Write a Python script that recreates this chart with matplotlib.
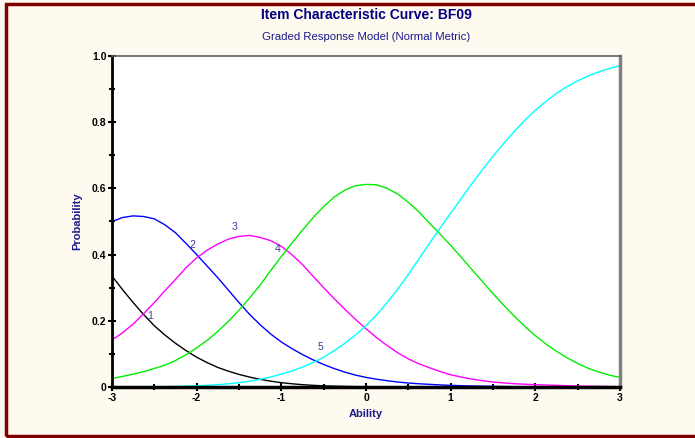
import matplotlib
matplotlib.use('Agg')
from matplotlib import pyplot as plt
from matplotlib.patches import Rectangle
from matplotlib.ticker import MultipleLocator

# ability grid (step 0.125) and category curves
ability = [-3 + 0.125 * i for i in range(49)]
cat1 = [0.335, 0.294, 0.255, 0.2185, 0.185, 0.157, 0.132, 0.110, 0.090, 0.0735,
        0.059, 0.0478, 0.038, 0.030, 0.023, 0.0176, 0.013, 0.0098, 0.007, 0.0051,
        0.0035, 0.0025, 0.0017, 0.0012, 0.0008, 0.0006, 0.0004, 0.0003, 0.0002, 0.00015,
        0.0001, 0.00005, 0, 0, 0, 0, 0, 0, 0, 0,
        0, 0, 0, 0, 0, 0, 0, 0, 0]
cat2 = [0.500, 0.512, 0.517, 0.515, 0.508, 0.490, 0.466, 0.4335, 0.400, 0.365,
        0.330, 0.2925, 0.255, 0.2195, 0.188, 0.160, 0.136, 0.116, 0.098, 0.082,
        0.068, 0.0556, 0.045, 0.036, 0.029, 0.0235, 0.019, 0.015, 0.012, 0.0098,
        0.008, 0.0063, 0.005, 0.004, 0.003, 0.0025, 0.002, 0.0015, 0.001, 0.0008,
        0.0006, 0.00045, 0.0003, 0.00025, 0.0002, 0.00015, 0.0001, 0.00005, 0.0]
cat3 = [0.142, 0.164, 0.190, 0.222, 0.255, 0.291, 0.325, 0.3605, 0.390, 0.4135,
        0.432, 0.4468, 0.455, 0.458, 0.452, 0.442, 0.425, 0.3995, 0.370, 0.3344,
        0.300, 0.2668, 0.235, 0.2045, 0.176, 0.149, 0.125, 0.1035, 0.085, 0.070,
        0.058, 0.0467, 0.037, 0.030, 0.024, 0.019, 0.015, 0.0123, 0.010, 0.0084,
        0.007, 0.006, 0.005, 0.004, 0.003, 0.0025, 0.002, 0.0015, 0.001]
cat4 = [0.026, 0.032, 0.039, 0.0466, 0.056, 0.066, 0.080, 0.0975, 0.118, 0.141,
        0.168, 0.1985, 0.232, 0.2688, 0.308, 0.3518, 0.394, 0.435, 0.474, 0.512,
        0.545, 0.574, 0.595, 0.608, 0.612, 0.611, 0.600, 0.583, 0.558, 0.529,
        0.495, 0.462, 0.428, 0.392, 0.355, 0.3185, 0.282, 0.2474, 0.214, 0.1834,
        0.155, 0.130, 0.108, 0.0883, 0.071, 0.0566, 0.045, 0.0358, 0.029]
cat5 = [0.0002, 0.0003, 0.0004, 0.0006, 0.0008, 0.0012, 0.0018, 0.0026, 0.0037, 0.0051,
        0.007, 0.0096, 0.013, 0.0175, 0.023, 0.0303, 0.039, 0.0484, 0.060, 0.0739,
        0.090, 0.1095, 0.132, 0.157, 0.185, 0.218, 0.255, 0.2956, 0.340, 0.387,
        0.434, 0.480, 0.525, 0.5697, 0.614, 0.6563, 0.697, 0.7355, 0.772, 0.8054,
        0.836, 0.8631, 0.887, 0.9076, 0.925, 0.9399, 0.952, 0.9625, 0.971]
curves = [cat1, cat2, cat3, cat4, cat5]
colors = ['black', '#0000ff', '#ff00ff', '#00ee00', '#00ffff']

# curve labels (text, x, y)
label_text = ['1', '2', '3', '4', '5']
label_x = [-2.55, -2.05, -1.55, -1.04, -0.54]
label_y = [0.214, 0.429, 0.484, 0.416, 0.12]

plt.rcParams['font.family'] = ['Liberation Sans', 'DejaVu Sans']

fig = plt.figure(figsize=(6.95, 4.38), dpi=100, facecolor='#fffaf0')
ax = fig.add_axes([112/695, 1-387/438, 508/695, 331/438])
ax.set_facecolor('white')

for vals, c in zip(curves, colors):
    ax.plot(ability, vals, color=c, lw=1.0)

for t, x, y in zip(label_text, label_x, label_y):
    ax.text(x, y, t, color='#3c3ca0', fontsize=7.5, ha='center', va='center')

ax.set_xlim(-3, 3)
ax.set_ylim(0, 1)
ax.xaxis.set_minor_locator(MultipleLocator(0.5))
ax.yaxis.set_minor_locator(MultipleLocator(0.1))
ax.set_yticks([0, 0.2, 0.4, 0.6, 0.8, 1.0])
ax.set_yticklabels(['0', '0.2', '0.4', '0.6', '0.8', '1.0'])
ax.set_xticks([-3, -2, -1, 0, 1, 2, 3])
ax.set_xticklabels(['-3', '-2', '-1', '0', '1', '2', '3'])
ax.tick_params(axis='both', which='major', direction='inout', length=6, width=1.5,
               labelsize=7.5, pad=1)
ax.tick_params(axis='both', which='minor', direction='inout', length=4, width=1.5)
for lab in ax.get_xticklabels() + ax.get_yticklabels():
    lab.set_fontweight('bold')

ax.spines['left'].set_linewidth(2)
ax.spines['bottom'].set_linewidth(2.5)
ax.spines['top'].set_color('#606060')
ax.spines['right'].set_color('#808080')
ax.spines['top'].set_linewidth(1.2)
ax.spines['right'].set_linewidth(2.5)

ax.set_xlabel('Ability', fontsize=8, fontweight='bold', color='#1a1a8c', labelpad=4.5)
ax.set_ylabel('Probability', fontsize=8, fontweight='bold', color='#1a1a8c', labelpad=7)

fig.text(366/695, 1-15/438, 'Item Characteristic Curve: BF09', ha='center', va='center',
         fontsize=10, fontweight='bold', color='#000080')
fig.text(366/695, 1-37/438, 'Graded Response Model (Normal Metric)', ha='center', va='center',
         fontsize=8.2, color='#1a1a8c')

# dark red frame around the chart
fig.patches.append(Rectangle((6/695, 2/438), 700/695, 432/438, transform=fig.transFigure,
                             fill=False, edgecolor='#800000', lw=2.5))

fig.savefig('out.png', dpi=100, facecolor=fig.get_facecolor())
